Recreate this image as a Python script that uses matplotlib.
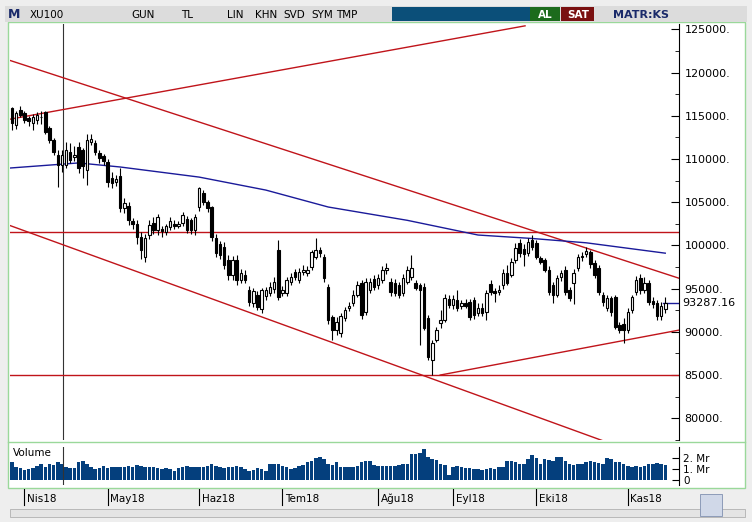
import matplotlib
matplotlib.use("Agg")
import matplotlib.pyplot as plt
from matplotlib.patches import Rectangle
import numpy as np

W, H = 752, 522
opens = [115900,113900,115700,115300,114700,114200,114500,114900,115400,113600,112200,110500,109300,109300,110800,110200,111400,111000,108700,112000,
111900,110700,110300,109600,107800,107300,108000,104300,104600,102800,102500,101000,98700,101200,102600,101800,101900,101600,102100,102500,
102300,102600,103000,102900,101800,104400,106100,105000,104400,100800,100200,99800,98300,96600,98300,96000,96600,94800,93300,94300,
92600,94200,94500,94900,99500,94500,94500,95800,96900,96000,96900,96800,97500,98700,99500,98700,95200,91700,90200,89900,
91600,92700,93300,94300,95600,92300,94800,96100,95400,96000,97100,95800,95700,95400,94500,95800,96300,95600,95400,95200,
91600,86700,89000,91000,91400,93800,93100,93700,93000,93300,93500,93700,92200,92800,92300,95500,94700,94600,95400,96800,
96600,98300,100300,99600,99100,100600,100300,98500,98300,97200,95400,94300,96300,97200,94800,95600,97400,98600,99000,99200,
98000,97400,94300,92700,93900,94000,90800,90900,90200,92500,94600,96200,94800,95700,93600,93300,91800,92600]
closes = [114200,115300,115100,114500,114400,114900,115100,114800,113100,112200,110800,109300,110500,111000,109900,110500,109000,109200,112200,112300,
110800,110100,109800,107300,107200,107700,104300,104900,102900,102500,101000,99500,100800,102400,101800,103300,101700,102200,102800,102300,
102500,103500,101800,101800,103300,106600,105000,104300,101000,99100,98900,97700,96600,98300,96000,96800,96000,93500,94700,92900,
94800,94800,95200,95800,94000,94800,96000,96400,96300,96900,97100,97200,99200,99500,99100,96200,91400,90200,91100,91800,
92500,93000,94300,95400,91900,95800,95800,95200,96200,97200,97400,94600,94500,94300,96200,97200,97400,95100,94800,90500,
87100,88700,90200,91400,93900,93100,93800,92800,93300,93000,91700,91900,92800,92200,94500,94600,94500,94800,96800,95700,
98100,99700,99100,99000,100400,99800,98700,98100,97200,94600,94300,96200,96800,94600,93900,96800,98700,98800,99300,97800,
96600,94600,93400,93900,92300,90600,90200,90200,92300,94000,96000,94800,95700,93500,93200,91800,93000,93287]
highs = [116000,115500,116100,115600,115000,115200,115400,115500,115600,113800,112400,111000,111000,112000,111800,111500,112000,111300,112900,112900,
112200,111000,110600,110000,108500,108200,108900,105500,105000,103200,102900,101500,101300,102900,103300,103600,102300,102500,103300,102900,
102800,103900,103400,103200,103600,106800,106400,105300,104600,101300,100500,100400,98900,98800,98900,97300,97100,95300,95100,94700,
95100,95200,95800,96300,100600,95300,96400,96800,97300,97400,97700,97600,99500,100900,99800,99000,95500,92000,91700,92200,
92900,93500,94800,95900,96000,96200,96200,96600,96700,97600,98000,96200,96100,95800,96700,97600,98900,96000,95700,95700,
91900,89000,90600,92500,94400,94300,94300,94800,93700,93800,93800,94000,93300,93300,94800,96000,95100,95400,97300,97700,
98500,100300,100700,100200,100900,101200,100600,98800,98500,97600,95800,96600,97200,97600,95200,97300,99000,99200,99800,99500,
98300,97700,94600,94300,94200,94300,91100,91600,92700,94300,96500,96700,96400,96000,94000,93700,93500,94000]
lows = [113300,113500,114800,114200,113800,113300,114000,114100,112900,111800,110500,106800,108500,108900,109500,109800,108400,107800,107000,111600,
110500,109500,109300,106700,106600,106900,103900,103700,102400,101900,100200,98400,98100,100700,101300,101200,101000,101200,101800,101900,
102000,102300,101400,101300,101200,104000,104700,103900,100500,98700,98400,97300,96000,96000,95400,95700,95600,93000,92900,92500,
92200,93700,94100,94500,93700,94100,94100,95400,96000,95700,96600,96500,97200,98400,98700,95800,90900,89000,89600,89400,
91300,92400,93000,94000,91500,92000,94500,94800,95000,95700,96700,94200,94100,93900,94100,95500,96000,94800,88500,90200,
86700,85000,88800,90400,91100,92700,92600,92400,92600,92700,91400,91500,91800,91800,91400,94300,93500,94300,95000,95400,
96300,98000,98700,97600,98800,99500,98400,97800,96900,94300,93300,94000,95900,94300,93600,93200,97000,98200,98700,97400,
96200,94300,93000,92400,91800,90300,89900,88700,89900,92200,94300,94400,94500,93100,92800,91400,91400,92200]
volume = [1.6,1.2,1.1,0.9,1.0,1.1,1.3,1.45,1.15,1.5,1.4,1.6,1.5,1.15,1.1,1.1,1.6,1.75,1.45,1.2,1.0,1.1,
1.3,1.1,1.15,1.2,1.2,1.2,1.3,1.15,1.4,1.3,1.2,1.15,1.15,1.1,1.0,1.1,1.0,0.85,1.1,1.15,1.3,1.2,
1.15,1.15,1.2,1.3,1.45,1.3,1.15,1.1,1.15,1.2,1.3,1.15,1.0,0.85,0.9,1.1,1.0,0.85,1.45,
1.5,1.45,1.3,1.15,1.0,1.1,1.3,1.4,1.6,1.75,2.0,2.05,1.9,1.45,1.4,1.6,1.2,1.15,1.2,
1.2,1.3,1.6,1.75,1.75,1.4,1.3,1.3,1.3,1.3,1.3,1.4,1.45,1.5,2.35,2.4,2.5,2.8,2.05,1.9,1.8,1.5,1.4,0.5,
1.15,1.3,1.15,1.1,1.1,1.0,1.0,0.9,1.0,1.1,1.0,1.15,1.2,1.75,1.7,1.6,1.5,1.45,1.9,2.3,2.0,1.45,1.9,1.8,1.75,2.05,
2.1,1.75,1.5,1.4,1.45,1.5,1.6,1.7,1.6,1.55,1.5,2.0,1.9,1.6,1.6,1.45,1.3,1.2,1.3,1.2,1.3,1.45,1.45,1.55,1.45,1.4,1.6]
n = min(len(opens), len(closes), len(highs), len(lows))
volume = (volume + [1.3]*n)[:n]

month_labels = ["Nis18","May18","Haz18","Tem18","A\u011fu18","Eyl18","Eki18","Kas18"]
month_idx = [3, 23, 45, 65, 88, 106, 126, 148]
ma_idx = [-0.5, 16, 26, 45, 61, 76, 95, 112, 125, 138, 157]
ma_val = [108950, 109540, 109070, 107900, 106400, 104440, 102900, 101200, 100800, 100300, 99100]
trend_lines = [(-0.5, 114600, 123.3, 125400), (-0.5, 121400, 160.3, 96200),
               (-0.5, 101600, 160.3, 101600), (-0.5, 102300, 142, 77400),
               (-0.5, 85000, 160.3, 85000), (102.9, 85000, 160.3, 90200)]
cross_idx = 12.3
last_price = 93287.16

fig = plt.figure(figsize=(W/100, H/100), dpi=100)
fig.patch.set_facecolor("#eeeeee")
def fx(x): return x / W
def fy(y): return 1 - y / H

bg = fig.add_axes([0, 0, 1, 1], zorder=-10)
bg.set_xlim(0, W); bg.set_ylim(H, 0); bg.axis("off")
bg.add_patch(Rectangle((8, 22), 737, 466, facecolor="white", edgecolor="#9ad89a", lw=1))
bg.plot([8, 745], [441.5, 441.5], color="#9ad89a", lw=1)
bg.add_patch(Rectangle((10, 509), 735, 8, facecolor="#e4e4e4", edgecolor="#b0b0b0", lw=0.6))
bg.add_patch(Rectangle((700, 494), 22, 22, facecolor="#d0d8e8", edgecolor="#8090b0", lw=0.6))

# toolbar
tb = fig.add_axes([fx(5), fy(22), fx(742), 16/H])
tb.set_xlim(5, 747); tb.set_ylim(22, 6); tb.axis("off")
tb.add_patch(Rectangle((5, 6), 742, 16, facecolor="#dcdcdc", edgecolor="none"))
tb.add_patch(Rectangle((392, 7), 138, 14, facecolor="#0b4f79"))
tb.add_patch(Rectangle((530, 7), 30, 14, facecolor="#1c6b1c"))
tb.add_patch(Rectangle((561, 7), 33, 14, facecolor="#7a1010"))
tb.text(8, 15, "M", fontsize=9, fontweight="bold", color="#1a2a6a", va="center")
tb.text(30, 15, "XU100", fontsize=7.5, va="center")
for x, t in [(143, "GUN"), (187, "TL"), (235, "LIN"), (266, "KHN"), (294, "SVD"), (322, "SYM"), (347, "TMP")]:
    tb.text(x, 15, t, fontsize=7.5, va="center", ha="center")
tb.text(545, 15, "AL", fontsize=7.5, color="white", fontweight="bold", va="center", ha="center")
tb.text(578, 15, "SAT", fontsize=7.5, color="white", fontweight="bold", va="center", ha="center")
tb.text(641, 15, "MATR:KS", fontsize=8, color="#1a2a6a", fontweight="bold", va="center", ha="center")

# main axes
ax = fig.add_axes([fx(10), fy(440), fx(669), 416/H])
ax.patch.set_alpha(0)
ax.set_xlim(-0.48, 160.3)
ax.set_ylim(77486, 125613)
idx = np.arange(n)
o = np.array(opens[:n]); c = np.array(closes[:n]); h = np.array(highs[:n]); l = np.array(lows[:n])
ax.vlines(idx, l, h, color="black", lw=0.8, zorder=3)
up = c >= o
ax.bar(idx[up], (c - o)[up], bottom=o[up], width=0.6, facecolor="white", edgecolor="black", lw=0.8, zorder=4)
ax.bar(idx[~up], (o - c)[~up], bottom=c[~up], width=0.6, facecolor="black", edgecolor="black", lw=0.8, zorder=4)
for (i0, p0, i1, p1) in trend_lines:
    ax.plot([i0, i1], [p0, p1], color="#c0141a", lw=1, zorder=2)
ax.plot(ma_idx, ma_val, color="#1a1a9a", lw=1, zorder=2)
ax.axvline(cross_idx, color="#333333", lw=0.8, zorder=1)
ax.plot([156.5, 160.3], [last_price, last_price], color="#1a1a9a", lw=1)
for s in ["left", "top", "bottom"]:
    ax.spines[s].set_visible(False)
ax.spines["right"].set_color("black")
ax.yaxis.tick_right()
ax.set_yticks(np.arange(80000, 125001, 5000))
ax.set_yticklabels([f"{v}." for v in range(80000, 125001, 5000)], fontsize=8)
ax.set_yticks(np.arange(77500, 125001, 2500), minor=True)
ax.tick_params(axis="y", direction="in", length=6, which="major", pad=4)
ax.tick_params(axis="y", direction="in", length=3, which="minor")
ax.set_xticks([])
ax.text(161, last_price, f"{last_price:.2f}", fontsize=8, va="center", ha="left",
        bbox=dict(facecolor="white", edgecolor="none", pad=1))

# volume axes
av = fig.add_axes([fx(10), fy(485), fx(669), 38/H])
av.patch.set_alpha(0)
av.set_xlim(-0.48, 160.3)
av.set_ylim(-0.45, 3.0)
av.bar(idx, volume, width=0.85, color="#043f7d", zorder=2)
av.axvline(cross_idx, color="#333333", lw=0.8, zorder=3)
for s in ["left", "top", "bottom"]:
    av.spines[s].set_visible(False)
av.yaxis.tick_right()
av.set_yticks([0, 1, 2]); av.set_yticklabels(["0", "1. Mr", "2. Mr"], fontsize=7.5)
av.tick_params(axis="y", direction="in", length=5, pad=3)
av.set_xticks([])
av.text(0.3, 2.5, "Volume", fontsize=7.5, va="center")

# date axis
ad = fig.add_axes([fx(10), fy(507), fx(669), 18/H])
ad.patch.set_alpha(0)
ad.set_xlim(-0.48, 160.3); ad.set_ylim(0, 1); ad.axis("off")
for i, t in zip(month_idx, month_labels):
    ad.plot([i, i], [0.1, 1.0], color="black", lw=0.8)
    ad.text(i + 0.6, 0.45, t, fontsize=7.5, va="center")

fig.savefig("out.png", dpi=100, facecolor=fig.get_facecolor())
